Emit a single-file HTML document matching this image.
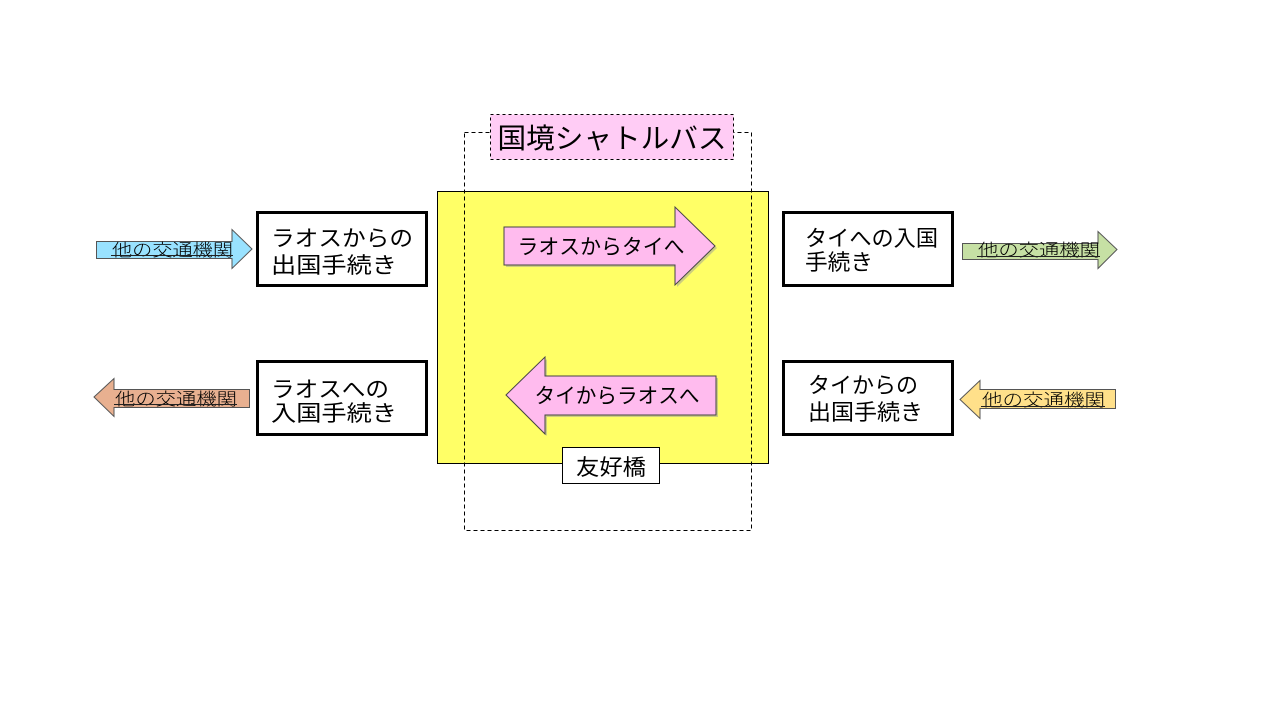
<!DOCTYPE html>
<html><head><meta charset="utf-8"><style>
html,body{margin:0;padding:0;background:#fff;}
svg{display:block;}
text{font-family:"Liberation Sans","Noto Sans CJK JP",sans-serif;fill:#000;}
.sm{font-weight:300;}
</style></head><body>
<svg width="1280" height="720" viewBox="0 0 1280 720" xmlns="http://www.w3.org/2000/svg">
<rect x="0" y="0" width="1280" height="720" fill="#fff"/>
<!-- yellow bridge -->
<rect x="437.5" y="191.5" width="331" height="272" fill="#FFFF66" stroke="#000" stroke-width="1"/>
<!-- dashed bus region -->
<rect x="464.5" y="132.5" width="287" height="398" fill="none" stroke="#000" stroke-width="1" stroke-dasharray="4,3"/>
<!-- title -->
<rect x="490.5" y="114.5" width="243" height="45" fill="#FFCCF5" stroke="#000" stroke-width="1" stroke-dasharray="3,3"/>
<text x="612" y="148" font-size="28" text-anchor="middle" textLength="229" lengthAdjust="spacingAndGlyphs">国境シャトルバス</text>

<!-- pink right arrow -->
<polygon points="506,229 677,229 677,209 717,248 677,287 677,267 506,267" fill="#999" opacity="0.5"/>
<polygon points="504,227 675,227 675,207 715,246 675,285 675,265 504,265" fill="#FFBBEE" stroke="#444" stroke-width="1"/>
<text x="601" y="254" font-size="21" text-anchor="middle" textLength="167" lengthAdjust="spacingAndGlyphs">ラオスからタイへ</text>

<!-- pink left arrow -->
<polygon points="508,397 547,359 547,378 718,378 718,417 547,417 547,436" fill="#999" opacity="0.5"/>
<polygon points="506,395 545,357 545,376 716,376 716,415 545,415 545,434" fill="#FFBBEE" stroke="#444" stroke-width="1"/>
<text x="617" y="403" font-size="21" text-anchor="middle" textLength="165" lengthAdjust="spacingAndGlyphs">タイからラオスへ</text>

<!-- friendship bridge label -->
<rect x="562.5" y="447.5" width="97" height="36" fill="#fff" stroke="#000" stroke-width="1"/>
<text x="611" y="475" font-size="22" text-anchor="middle" textLength="70" lengthAdjust="spacingAndGlyphs">友好橋</text>

<!-- left boxes -->
<rect x="257.5" y="212.5" width="169" height="73" fill="#fff" stroke="#000" stroke-width="3"/>
<text x="271" y="246" font-size="22" textLength="142" lengthAdjust="spacingAndGlyphs">ラオスからの</text>
<text x="271" y="273" font-size="22" textLength="126" lengthAdjust="spacingAndGlyphs">出国手続き</text>

<rect x="257.5" y="361.5" width="169" height="73" fill="#fff" stroke="#000" stroke-width="3"/>
<text x="271" y="397" font-size="22" textLength="118" lengthAdjust="spacingAndGlyphs">ラオスへの</text>
<text x="271" y="421" font-size="22" textLength="126" lengthAdjust="spacingAndGlyphs">入国手続き</text>

<!-- right boxes -->
<rect x="783.5" y="212.5" width="169" height="73" fill="#fff" stroke="#000" stroke-width="3"/>
<text x="805" y="246" font-size="22" textLength="133" lengthAdjust="spacingAndGlyphs">タイへの入国</text>
<text x="805" y="270" font-size="22" textLength="68" lengthAdjust="spacingAndGlyphs">手続き</text>

<rect x="783.5" y="361.5" width="169" height="73" fill="#fff" stroke="#000" stroke-width="3"/>
<text x="808" y="393" font-size="22" textLength="110" lengthAdjust="spacingAndGlyphs">タイからの</text>
<text x="808" y="420" font-size="22" textLength="115" lengthAdjust="spacingAndGlyphs">出国手続き</text>

<!-- blue arrow (right) -->
<polygon points="96.5,241.5 232,241.5 232,229.5 252,249 232,268.5 232,258.5 96.5,258.5" fill="#99E2FF" stroke="#555" stroke-width="1"/>
<text class="sm" x="112" y="256" font-size="17" textLength="121" lengthAdjust="spacingAndGlyphs" fill="#222">他の交通機関</text>
<line x1="111" y1="255.5" x2="233" y2="255.5" stroke="#222" stroke-width="1"/>

<!-- orange arrow (left) -->
<polygon points="94,397 114,378.5 114,389.5 249.5,389.5 249.5,407.5 114,407.5 114,416.5" fill="#E8B090" stroke="#555" stroke-width="1"/>
<text class="sm" x="115" y="405" font-size="17" textLength="122" lengthAdjust="spacingAndGlyphs" fill="#222">他の交通機関</text>
<line x1="114" y1="404.5" x2="237" y2="404.5" stroke="#222" stroke-width="1"/>

<!-- green arrow (right) -->
<polygon points="962.5,243.5 1098,243.5 1098,231.5 1117,249.5 1098,268.5 1098,259.5 962.5,259.5" fill="#C6E0A4" stroke="#555" stroke-width="1"/>
<text class="sm" x="978" y="256" font-size="17" textLength="122" lengthAdjust="spacingAndGlyphs" fill="#222">他の交通機関</text>
<line x1="977" y1="256.5" x2="1100" y2="256.5" stroke="#222" stroke-width="1"/>

<!-- yellow-orange arrow (left) -->
<polygon points="960,399.5 980,380.5 980,389.5 1115.5,389.5 1115.5,408.5 980,408.5 980,418.5" fill="#FFE08A" stroke="#555" stroke-width="1"/>
<text class="sm" x="982" y="406" font-size="17" textLength="123" lengthAdjust="spacingAndGlyphs" fill="#222">他の交通機関</text>
<line x1="981" y1="406.5" x2="1105" y2="406.5" stroke="#222" stroke-width="1"/>
</svg>
</body></html>
